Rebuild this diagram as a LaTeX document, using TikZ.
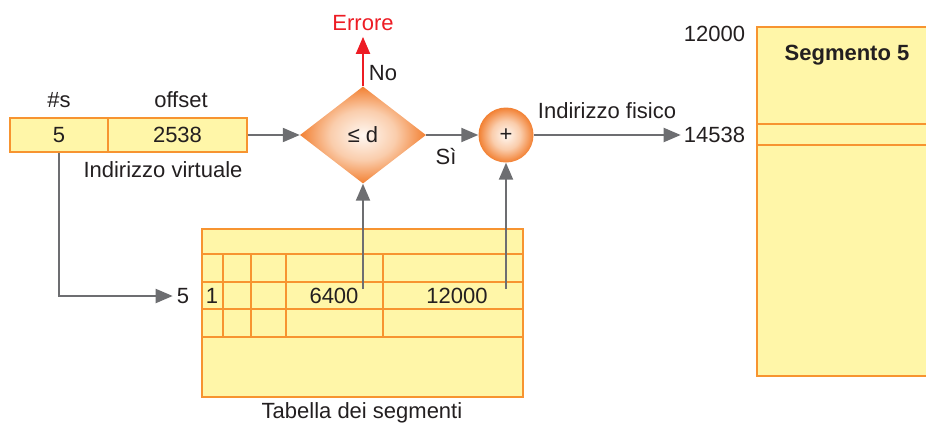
\documentclass[tikz,border=0pt]{standalone}
\usepackage{fontspec}
\setmainfont{Liberation Sans}
\usetikzlibrary{arrows.meta,shapes.geometric}
\definecolor{fillY}{RGB}{255,246,168}
\definecolor{edgeO}{RGB}{247,148,48}
\definecolor{deepO}{RGB}{242,128,50}
\definecolor{lightO}{RGB}{255,248,242}
\definecolor{midO}{RGB}{250,205,172}
\definecolor{grayA}{RGB}{109,110,113}
\definecolor{redA}{RGB}{237,28,36}
\definecolor{txt}{RGB}{35,31,32}
\pgfdeclareradialshading{orangeball}{\pgfpoint{0bp}{0bp}}{color(0bp)=(lightO); color(13bp)=(midO); color(25bp)=(deepO); color(50bp)=(deepO)}
\begin{document}
\begin{tikzpicture}[x=1pt,y=-1pt,
  every node/.style={font=\fontsize{22}{26}\selectfont, text=txt},
  cell/.style={draw=edgeO, fill=fillY, line width=1.3pt, inner sep=0pt},
  grid/.style={draw=edgeO, line width=1.2pt},
  conn/.style={draw=grayA, line width=2pt, -{Triangle[length=17pt,width=14pt]}},
  redconn/.style={draw=redA, line width=2pt, -{Triangle[length=17pt,width=14pt]}},
  lbl/.style={inner sep=1pt}]
\useasboundingbox (0,0) rectangle (926,429);

% virtual address
\node[cell, minimum width=98pt, minimum height=34pt] (vs) at (59,135) {5};
\node[cell, minimum width=139pt, minimum height=34pt] (voff) at (177.5,135) {2538};
\node[lbl] (hs) at (59,100) {\#s};
\node[lbl] (hoff) at (181,100) {offset};
\node[lbl] (vlab) at (163,170) {Indirizzo virtuale};

% diamond and circle
\node[diamond, inner sep=0pt, minimum width=126pt, minimum height=97pt,
      shading=orangeball] (dia) at (363,135) {≤ d};
\node[circle, inner sep=0pt, minimum size=55pt,
      shading=orangeball] (plus) at (506,135) {+};

\node[lbl, text=redA] (err) at (363,23) {Errore};
\node[lbl] (no) at (383,73) {No};
\node[lbl] (si) at (446,157) {Sì};
\node[lbl] (fis) at (607,111) {Indirizzo fisico};
\node[lbl] (a14538) at (714.5,135) {14538};
\node[lbl] (a12000) at (714.5,34) {12000};

% memory
\fill[fillY] (757,27) rectangle (930,376);
\draw[grid] (930,27) -- (757,27) -- (757,376) -- (930,376);
\draw[grid] (757,124) -- (930,124);
\draw[grid] (757,145) -- (930,145);
\node[lbl, font=\fontsize{22}{26}\selectfont\bfseries] (seg) at (847,55) {Segmento 5};

% segment table
\fill[fillY] (202,229) rectangle (523,397);
\draw[grid] (202,229) rectangle (523,397);
\foreach \yy in {254,282,309,337} \draw[grid] (202,\yy) -- (523,\yy);
\foreach \xx in {223,251,286,383} \draw[grid] (\xx,254) -- (\xx,337);
\node[lbl] (c1) at (212,296) {1};
\node[lbl] (c6400) at (334,296) {6400};
\node[lbl] (c12000) at (457,296) {12000};
\node[lbl] (five) at (183,296) {5};
\node[lbl] (tlab) at (362,413) {Tabella dei segmenti};
\coordinate (t6400) at (363,289);
\coordinate (t12000) at (506,289);

% connectors
\draw[conn] (voff.east) -- (dia.west);
\draw[conn] (dia.east) -- (plus.west);
\draw[conn] (plus.east) -- ([xshift=-2pt]a14538.west);
\draw[redconn] (dia.north) -- ([yshift=-5pt]err.south);
\draw[conn] (vs.south) |- ([xshift=-3pt]five.west);
\draw[conn] (t6400) -- (dia.south);
\draw[conn] (t12000) -- (plus.south);
\end{tikzpicture}
\end{document}
